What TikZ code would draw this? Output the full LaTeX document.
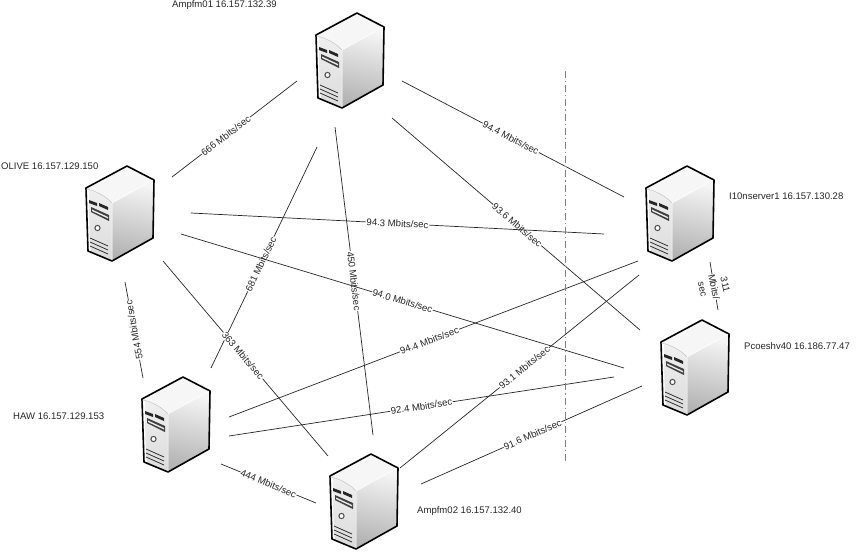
\documentclass[tikz,border=0pt]{standalone}
\usepackage{fontspec}
\setmainfont{Liberation Sans}
\tikzset{
  x=1pt,y=-1pt,
  lnk/.style={draw=black!85,line width=0.7pt},
  rate/.style={font=\fontsize{9.6}{10}\selectfont,text=black!85,fill=white,inner sep=0.6pt,sloped},
  rateup/.style={rate,allow upside down},
  host/.style={font=\fontsize{9.55}{11}\selectfont,text=black!85,anchor=west,inner sep=0pt},
  outl/.style={draw=black,line width=1.6pt,line join=round},
  pics/srv/.style={code={
    \shade[top color=gray!8,bottom color=gray!60,shading angle=-12]
      (26,15) -- (68,-8) -- (67,50) -- (26,73) -- cycle;
    \fill[gray!7] (0,0) -- (41,-22) -- (68,-8) -- (26,15) -- cycle;
    \shade[top color=gray!12,bottom color=gray!28]
      (0,0) .. controls (8,2) and (20,8) .. (26,15) -- (26,73) -- (2,63) -- cycle;
    \fill[white] (0,0) .. controls (1,20) and (1,45) .. (2,63) -- (5,64) .. controls (3,45) and (3,20) .. (3,2) -- cycle;
    \draw[outl] (0,0) -- (41,-22) -- (68,-8) -- (67,50) -- (26,73) -- (2,63) -- cycle;
    \draw[line width=0.5pt,gray!45] (0,1) .. controls (8,2) and (20,8) .. (26,15);
    \draw[line width=0.5pt,white] (26,15) -- (26,72) (26,15) -- (67,-8);
    \fill[black!85] (3,12) -- (11,15) -- (11,18) -- (3,15) -- cycle;
    \fill[black!85] (13,15) -- (22,19) -- (22,22) -- (13,18) -- cycle;
    \fill[black!75] (5,19) -- (23,27) -- (23,33) -- (5,24) -- cycle;
    \fill[gray!15] (6,21.5) -- (22,29) -- (22,30.5) -- (6,23) -- cycle;
    \draw[line width=1pt,black!70,fill=white] (11.5,40) circle (2.6);
    \draw[line width=0.8pt,black!80] (4,50) -- (22,58) (4,54) -- (22,62) (4,58) -- (22,66);
  }}
}
\begin{document}
\begin{tikzpicture}
\useasboundingbox (0,0) rectangle (863,552);
% servers
\path (316,35) pic (srvA) {srv};
\path (86,188) pic (srvO) {srv};
\path (646,188) pic (srvI) {srv};
\path (661,342) pic (srvP) {srv};
\path (142,399) pic (srvH) {srv};
\path (330,476) pic (srvB) {srv};
% host labels
\node[host] (hA) at (172,5) {Ampfm01 16.157.132.39};
\node[host] (hO) at (1,166) {OLIVE 16.157.129.150};
\node[host] (hI) at (729,196) {I10nserver1 16.157.130.28};
\node[host] (hP) at (744,346) {Pcoeshv40 16.186.77.47};
\node[host] (hH) at (13,416) {HAW 16.157.129.153};
\node[host] (hB) at (417,511) {Ampfm02 16.157.132.40};
% connector ends
\coordinate (a1) at (297,81);   \coordinate (o1) at (172,177);
\coordinate (a2) at (402,81);   \coordinate (i1) at (624,197);
\coordinate (a3) at (392,118);  \coordinate (p1) at (640,330);
\coordinate (a4) at (317,147);  \coordinate (h1) at (211,368);
\coordinate (a5) at (335,127);  \coordinate (b1) at (373,435);
\coordinate (o2) at (191,213);  \coordinate (i2) at (604,234);
\coordinate (o3) at (181,234);  \coordinate (p2) at (624,368);
\coordinate (o4) at (163,261);  \coordinate (b2) at (328,456);
\coordinate (o5) at (125,282);  \coordinate (h2) at (143,378);
\coordinate (h3) at (229,417);  \coordinate (i3) at (638,261);
\coordinate (h4) at (229,436);  \coordinate (p3) at (614,377);
\coordinate (h5) at (221,464);  \coordinate (b3) at (316,503);
\coordinate (b4) at (400,468);  \coordinate (i4) at (639,275);
\coordinate (b5) at (421,484);  \coordinate (p4) at (642,386);
\coordinate (i5) at (710,262);  \coordinate (p5) at (718,310);
% connectors
\draw[lnk] (a1) -- node[rate,pos=.57] (l1) {666 Mbits/sec} (o1);
\draw[lnk] (a2) -- node[rate,pos=.49] (l2) {94.4 Mbits/sec} (i1);
\draw[lnk] (a3) -- node[rate,pos=.505] (l3) {93.6 Mbits/sec} (p1);
\draw[lnk] (a4) -- node[rate,pos=.53] (l4) {681 Mbits/sec} (h1);
\draw[lnk] (a5) -- node[rate,pos=.50] (l5) {450 Mbits/sec} (b1);
\draw[lnk] (o2) -- node[rate,pos=.5] (l6) {94.3 Mbits/sec} (i2);
\draw[lnk] (o3) -- node[rate,pos=.5] (l7) {94.0 Mbits/sec} (p2);
\draw[lnk] (o4) -- node[rate,pos=.485] (l8) {363 Mbits/sec} (b2);
\draw[lnk] (h2) -- node[rateup,pos=.5] (l9) {554 Mbits/sec} (o5);
\draw[lnk] (h3) -- node[rate,pos=.49] (l10) {94.4 Mbits/sec} (i3);
\draw[lnk] (h4) -- node[rate,pos=.5] (l11) {92.4 Mbits/sec} (p3);
\draw[lnk] (h5) -- node[rate,pos=.5] (l12) {444 Mbits/sec} (b3);
\draw[lnk] (b4) -- node[rate,pos=.52] (l13) {93.1 Mbits/sec} (i4);
\draw[lnk] (b5) -- node[rate,pos=.505] (l14) {91.6 Mbits/sec} (p4);
\draw[lnk] (i5) -- (p5);
\node[rate,sloped=false,rotate=-78,align=center,inner sep=0pt,font=\fontsize{9.6}{11.5}\selectfont] (l15) at (714,287) {311\\Mbits/\\sec};
% dash-dot rule
\coordinate (ruleT) at (565,71);
\coordinate (ruleB) at (565,462);
\draw[draw=black!50,line width=0.8pt,dash pattern=on 7pt off 3pt on 1.2pt off 3pt] (ruleT) -- (ruleB);
\end{tikzpicture}
\end{document}
